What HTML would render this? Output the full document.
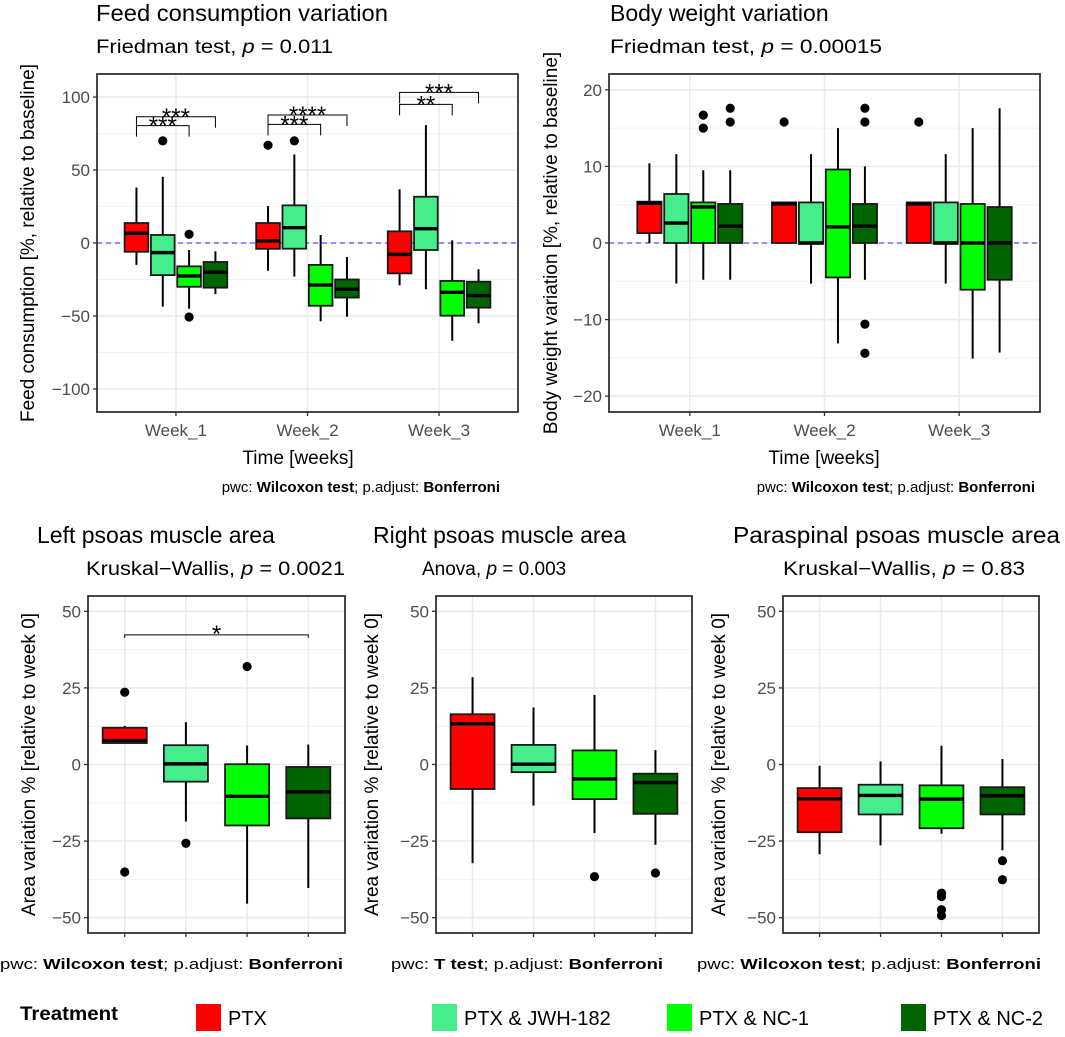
<!DOCTYPE html>
<html><head><meta charset="utf-8"><style>
html,body{margin:0;padding:0;background:#fff;}
svg{display:block;font-family:"Liberation Sans",Arial,sans-serif;}
</style></head><body>
<svg id="fig" width="1065" height="1037" viewBox="0 0 1065 1037" xmlns="http://www.w3.org/2000/svg"></svg>
<script>
// ---------- data ----------
const groupNames = ["PTX","PTX & JWH-182","PTX & NC-1","PTX & NC-2"];
const groupColors = ["#ff0000","#45ee8a","#00ff00","#006400"];
const weekCats = ["Week_1","Week_2","Week_3"];
const feedTicks = [-100,-50,0,50,100];
const bodyTicks = [-20,-10,0,10,20];
const areaTicks = [-50,-25,0,25,50];

// feed consumption (order: week1 x4 groups, week2 x4, week3 x4)
const feedLow  = [-15,-43.6,-45,-35, -19,-23,-53.6,-50.5, -29,-31.7,-67,-55];
const feedQ1   = [-6,-22,-30,-30.6, -4,-3.9,-43,-37.4, -20.8,-4.8,-49.8,-44.3];
const feedMed  = [6.6,-6.6,-22.6,-20, 1.4,10.5,-28.8,-31.7, -7.8,9.8,-33.8,-36];
const feedQ3   = [13.7,5.5,-16,-13, 13.7,25.8,-15,-25, 8,31.7,-26,-26.5];
const feedHigh = [38,45.4,-4.8,-5.7, 25.3,60.7,5.5,-9.6, 36.8,80.8,1.8,-18];
const feedOutIdx = [1,2,2,4,5];
const feedOutVal = [70,6,-50.7,67,70];
// brackets: [fromIdx, toIdx, yValue, label]
const feedBrFrom = [0,0,4,4,8,8];
const feedBrTo   = [3,2,7,6,11,10];
const feedBrY    = [86.5,80.4,87.7,81.3,103.2,95];
const feedBrLab  = ["***","***","****","***","***","**"];

// body weight
const bodyLow  = [0,-5.3,-4.8,-4.8, 0,-5.3,-13.1,-4.8, 0,-5.3,-15.1,-14.3];
const bodyQ1   = [1.3,0,0,0, 0,-0.1,-4.5,0, 0,-0.1,-6.1,-4.8];
const bodyMed  = [5.2,2.6,4.7,2.2, 5.1,0,2.1,2.2, 5.1,0,0,0];
const bodyQ3   = [5.4,6.4,5.3,5.1, 5.3,5.3,9.6,5.1, 5.3,5.3,5.1,4.7];
const bodyHigh = [10.4,11.6,9.5,9.5, 5.3,11.6,15,10, 5.3,11.6,15,17.6];
const bodyOutIdx = [2,2,3,3,4,7,7,7,7,8];
const bodyOutVal = [16.7,15,17.6,15.8,15.8,17.6,15.8,-10.6,-14.4,15.8];

// left psoas
const leftLow  = [7,-18.6,-45.4,-40.3];
const leftQ1   = [7,-5.6,-19.9,-17.6];
const leftMed  = [7.8,0.2,-10.4,-8.9];
const leftQ3   = [12,6.3,0.1,-0.8];
const leftHigh = [12.6,13.8,6.2,6.5];
const leftOutIdx = [0,0,1,2];
const leftOutVal = [23.6,-35.1,-25.7,32];
// right psoas
const rightLow  = [-32.2,-13.4,-22.4,-26.2];
const rightQ1   = [-8,-2.5,-11.3,-16.1];
const rightMed  = [13.3,0.1,-4.7,-5.9];
const rightQ3   = [16.4,6.4,4.6,-3];
const rightHigh = [28.5,18.6,22.7,4.7];
const rightOutIdx = [2,3];
const rightOutVal = [-36.6,-35.4];
// paraspinal
const paraLow  = [-29.3,-26.4,-22.6,-28];
const paraQ1   = [-22.1,-16.3,-20.8,-16.3];
const paraMed  = [-11.2,-10.1,-11.3,-10.2];
const paraQ3   = [-7.7,-6.6,-6.8,-7.4];
const paraHigh = [-0.4,1,6.1,1.8];
const paraOutIdx = [2,2,2,2,3,3];
const paraOutVal = [-42,-43.1,-47.4,-49.3,-31.4,-37.6];

// ---------- drawing ----------
const NS = "http://www.w3.org/2000/svg";
const svg = document.getElementById("fig");
function el(tag, attrs, parent){
  const e = document.createElementNS(NS, tag);
  for (const k in attrs) e.setAttribute(k, attrs[k]);
  (parent||svg).appendChild(e);
  return e;
}

function panel(o){
  const g = el("g", {});
  
  
  const nCat = o.nCat;
  const unit = (o.x1 - o.x0) / (nCat - 1 + 1.2);
  const xCat = c => o.x0 + (c + 0.6) * unit;
  const yS = v => o.y0 + (o.yMax - v) / (o.yMax - o.yMin) * (o.y1 - o.y0);
  for (let i = 0; i < o.ticks.length - 1; i++) {
    const m = (o.ticks[i] + o.ticks[i+1]) / 2;
    el("line", {x1:o.x0, x2:o.x1, y1:yS(m), y2:yS(m), stroke:"#f2f2f2", "stroke-width":1}, g);
  }
  o.ticks.forEach(t => {
    el("line", {x1:o.x0, x2:o.x1, y1:yS(t), y2:yS(t), stroke:"#ebebeb", "stroke-width":1.6}, g);
  });
  for (let c = 0; c < nCat; c++) {
    el("line", {x1:xCat(c), x2:xCat(c), y1:o.y0, y2:o.y1, stroke:"#ebebeb", "stroke-width":1.6}, g);
  }
  if (o.zeroLine) {
    const zl = el("line", {x1:o.x0, x2:o.x1, y1:yS(0), y2:yS(0), stroke:"#2b2bff", "stroke-width":1, "stroke-dasharray":"5,4"}, g);
    
    
  }
  const bw = o.boxW * unit;
  const xBox = i => {
    if (o.grouped) { const c = Math.floor(i/4), k = i % 4; return xCat(c) + (k - 1.5) * 0.2 * unit; }
    return xCat(i);
  };
  for (let i = 0; i < o.med.length; i++) {
    const x = xBox(i), k = o.grouped ? i % 4 : i;
    const bg = el("g", {}, g);
    
    
    el("line", {x1:x, x2:x, y1:yS(o.high[i]), y2:yS(o.q3[i]), stroke:"#000", "stroke-width":2}, bg);
    el("line", {x1:x, x2:x, y1:yS(o.q1[i]), y2:yS(o.low[i]), stroke:"#000", "stroke-width":2}, bg);
    el("rect", {x:x-bw/2, y:yS(o.q3[i]), width:bw, height:Math.max(0.5, yS(o.q1[i])-yS(o.q3[i])), fill:groupColors[k], stroke:"#1a1a1a", "stroke-width":1.8}, bg);
    el("line", {x1:x-bw/2, x2:x+bw/2, y1:yS(o.med[i]), y2:yS(o.med[i]), stroke:"#000", "stroke-width":3.4}, bg);
  }
  for (let j = 0; j < o.outIdx.length; j++) {
    const p = el("circle", {cx:xBox(o.outIdx[j]), cy:yS(o.outVal[j]), r:4.6, fill:"#000"}, g);
    
    
  }
  if (o.brFrom) {
    for (let j = 0; j < o.brFrom.length; j++) {
      const xa = xBox(o.brFrom[j]), xb = xBox(o.brTo[j]), yy = yS(o.brY[j]);
      const bk = el("path", {d:`M${xa},${yy+o.brLeg} V${yy} H${xb} V${yy+o.brLeg}`, fill:"none", stroke:"#000", "stroke-width":1}, g);
      
      
      const st = el("text", {x:(xa+xb)/2, y:yy+o.starOff, "text-anchor":"middle", "font-size":24, fill:"#000"}, g);
      st.textContent = o.brLab[j];
      
      
    }
  }
  const fr = el("rect", {x:o.x0, y:o.y0, width:o.x1-o.x0, height:o.y1-o.y0, fill:"none", stroke:"#333", "stroke-width":1.8}, g);
  
  
  o.ticks.forEach(t => {
    el("line", {x1:o.x0-4, x2:o.x0, y1:yS(t), y2:yS(t), stroke:"#333", "stroke-width":1.3}, g);
    const tl = el("text", {x:o.x0-7, y:yS(t)+6, "text-anchor":"end", "font-size":17, fill:"#4d4d4d"}, g);
    tl.textContent = t < 0 ? "\u2212" + Math.abs(t) : String(t);
    
    
  });
  for (let c = 0; c < nCat; c++) {
    el("line", {x1:xCat(c), x2:xCat(c), y1:o.y1, y2:o.y1+4, stroke:"#333", "stroke-width":1.3}, g);
    if (o.catLabels) {
      const xl = el("text", {x:xCat(c), y:o.y1+24, "text-anchor":"middle", "font-size":17, fill:"#4d4d4d"}, g);
      xl.textContent = o.catLabels[c];
      
      
    }
  }
  const yt = el("text", {transform:`translate(${o.yTitleX},${(o.y0+o.y1)/2}) rotate(-90)`, "text-anchor":"middle", "font-size":19, fill:"#000"}, g);
  yt.textContent = o.yTitle;
  
  
}

panel({name:"feed-consumption-panel", short:"feed", x0:97, x1:518, y0:74, y1:412, yMin:-115.8, yMax:115.8, nCat:3, grouped:true, boxW:0.18,
  ticks:feedTicks, catLabels:weekCats, zeroLine:true, low:feedLow, q1:feedQ1, med:feedMed, q3:feedQ3, high:feedHigh,
  outIdx:feedOutIdx, outVal:feedOutVal, brFrom:feedBrFrom, brTo:feedBrTo, brY:feedBrY, brLab:feedBrLab, brLeg:11, starOff:8,
  yTitle:"Feed consumption [%, relative to baseline]", yTitleX:34});
panel({name:"body-weight-panel", short:"body", x0:609, x1:1040, y0:74, y1:412, yMin:-22.07, yMax:22.07, nCat:3, grouped:true, boxW:0.18,
  ticks:bodyTicks, catLabels:weekCats, zeroLine:true, low:bodyLow, q1:bodyQ1, med:bodyMed, q3:bodyQ3, high:bodyHigh,
  outIdx:bodyOutIdx, outVal:bodyOutVal, yTitle:"Body weight variation [%, relative to baseline]", yTitleX:557});
panel({name:"left-psoas-panel", short:"left", x0:88, x1:345, y0:596, y1:933, yMin:-55, yMax:55, nCat:4, grouped:false, boxW:0.72,
  ticks:areaTicks, low:leftLow, q1:leftQ1, med:leftMed, q3:leftQ3, high:leftHigh, outIdx:leftOutIdx, outVal:leftOutVal,
  brFrom:[0], brTo:[3], brY:[42.3], brLab:["*"], brLeg:3, starOff:7,
  yTitle:"Area variation % [relative to week 0]", yTitleX:35});
panel({name:"right-psoas-panel", short:"right", x0:436, x1:692, y0:596, y1:933, yMin:-55, yMax:55, nCat:4, grouped:false, boxW:0.72,
  ticks:areaTicks, low:rightLow, q1:rightQ1, med:rightMed, q3:rightQ3, high:rightHigh, outIdx:rightOutIdx, outVal:rightOutVal,
  yTitle:"Area variation % [relative to week 0]", yTitleX:378});
panel({name:"paraspinal-panel", short:"para", x0:783, x1:1039, y0:596, y1:933, yMin:-55, yMax:55, nCat:4, grouped:false, boxW:0.72,
  ticks:areaTicks, low:paraLow, q1:paraQ1, med:paraMed, q3:paraQ3, high:paraHigh, outIdx:paraOutIdx, outVal:paraOutVal,
  yTitle:"Area variation % [relative to week 0]", yTitleX:725});
</script>
<script>
(function(){
  const NS = "http://www.w3.org/2000/svg";
  const svg = document.getElementById("fig");
  function txt(x, y, size, html, name, opts){
    const t = document.createElementNS(NS, "text");
    t.setAttribute("x", x); t.setAttribute("y", y); t.setAttribute("font-size", size);
    t.setAttribute("fill", "#000");
    if (opts && opts.anchor) t.setAttribute("text-anchor", opts.anchor);
    if (opts && opts.len) { t.setAttribute("textLength", opts.len); t.setAttribute("lengthAdjust", "spacingAndGlyphs"); }
    if (opts && opts.weight) t.setAttribute("font-weight", opts.weight);
    t.innerHTML = html;
    
    
    svg.appendChild(t);
  }
  const P = '<tspan font-style="italic">p</tspan>';
  txt(96, 21, 23, "Feed consumption variation", "feed-panel-title", {len:292});
  txt(96, 53, 19, "Friedman test, " + P + " = 0.011", "feed-panel-subtitle", {len:237});
  txt(298, 464, 19, "Time [weeks]", "feed-x-axis-title", {anchor:"middle"});
  txt(500, 492, 15, 'pwc: <tspan font-weight="bold">Wilcoxon test</tspan>; p.adjust: <tspan font-weight="bold">Bonferroni</tspan>', "feed-caption", {anchor:"end"});
  txt(610, 21, 23, "Body weight variation", "body-panel-title");
  txt(610, 53, 19, "Friedman test, " + P + " = 0.00015", "body-panel-subtitle", {len:272});
  txt(824, 464, 19, "Time [weeks]", "body-x-axis-title", {anchor:"middle"});
  txt(1035, 492, 15, 'pwc: <tspan font-weight="bold">Wilcoxon test</tspan>; p.adjust: <tspan font-weight="bold">Bonferroni</tspan>', "body-caption", {anchor:"end"});
  txt(37, 543, 23, "Left psoas muscle area", "left-psoas-title");
  txt(86, 575, 19, "Kruskal\u2212Wallis, " + P + " = 0.0021", "left-psoas-subtitle", {len:259});
  txt(373, 543, 23, "Right psoas muscle area", "right-psoas-title");
  txt(422, 575, 19, "Anova, " + P + " = 0.003", "right-psoas-subtitle");
  txt(733, 543, 23, "Paraspinal psoas muscle area", "paraspinal-title", {len:327});
  txt(783, 575, 19, "Kruskal\u2212Wallis, " + P + " = 0.83", "paraspinal-subtitle", {len:242});
  txt(0, 969, 15, 'pwc: <tspan font-weight="bold">Wilcoxon test</tspan>; p.adjust: <tspan font-weight="bold">Bonferroni</tspan>', "left-psoas-caption", {len:343});
  txt(391, 969, 15, 'pwc: <tspan font-weight="bold">T test</tspan>; p.adjust: <tspan font-weight="bold">Bonferroni</tspan>', "right-psoas-caption", {len:272});
  txt(697, 969, 15, 'pwc: <tspan font-weight="bold">Wilcoxon test</tspan>; p.adjust: <tspan font-weight="bold">Bonferroni</tspan>', "paraspinal-caption", {len:344});
  txt(20, 1020, 19, "Treatment", "legend-title", {weight:"bold", len:98});
  const lx = [196, 432, 667, 901];
  const names = ["PTX","PTX &amp; JWH-182","PTX &amp; NC-1","PTX &amp; NC-2"];
  const cols = ["#ff0000","#45ee8a","#00ff00","#006400"];
  for (let i = 0; i < 4; i++) {
    const r = document.createElementNS(NS, "rect");
    r.setAttribute("x", lx[i]); r.setAttribute("y", 1004); r.setAttribute("width", 25); r.setAttribute("height", 27);
    r.setAttribute("fill", cols[i]);
    
    
    svg.appendChild(r);
    txt(lx[i] + 32, 1025, 20, names[i], "legend-entry");
  }
})();
</script>
</body></html>
